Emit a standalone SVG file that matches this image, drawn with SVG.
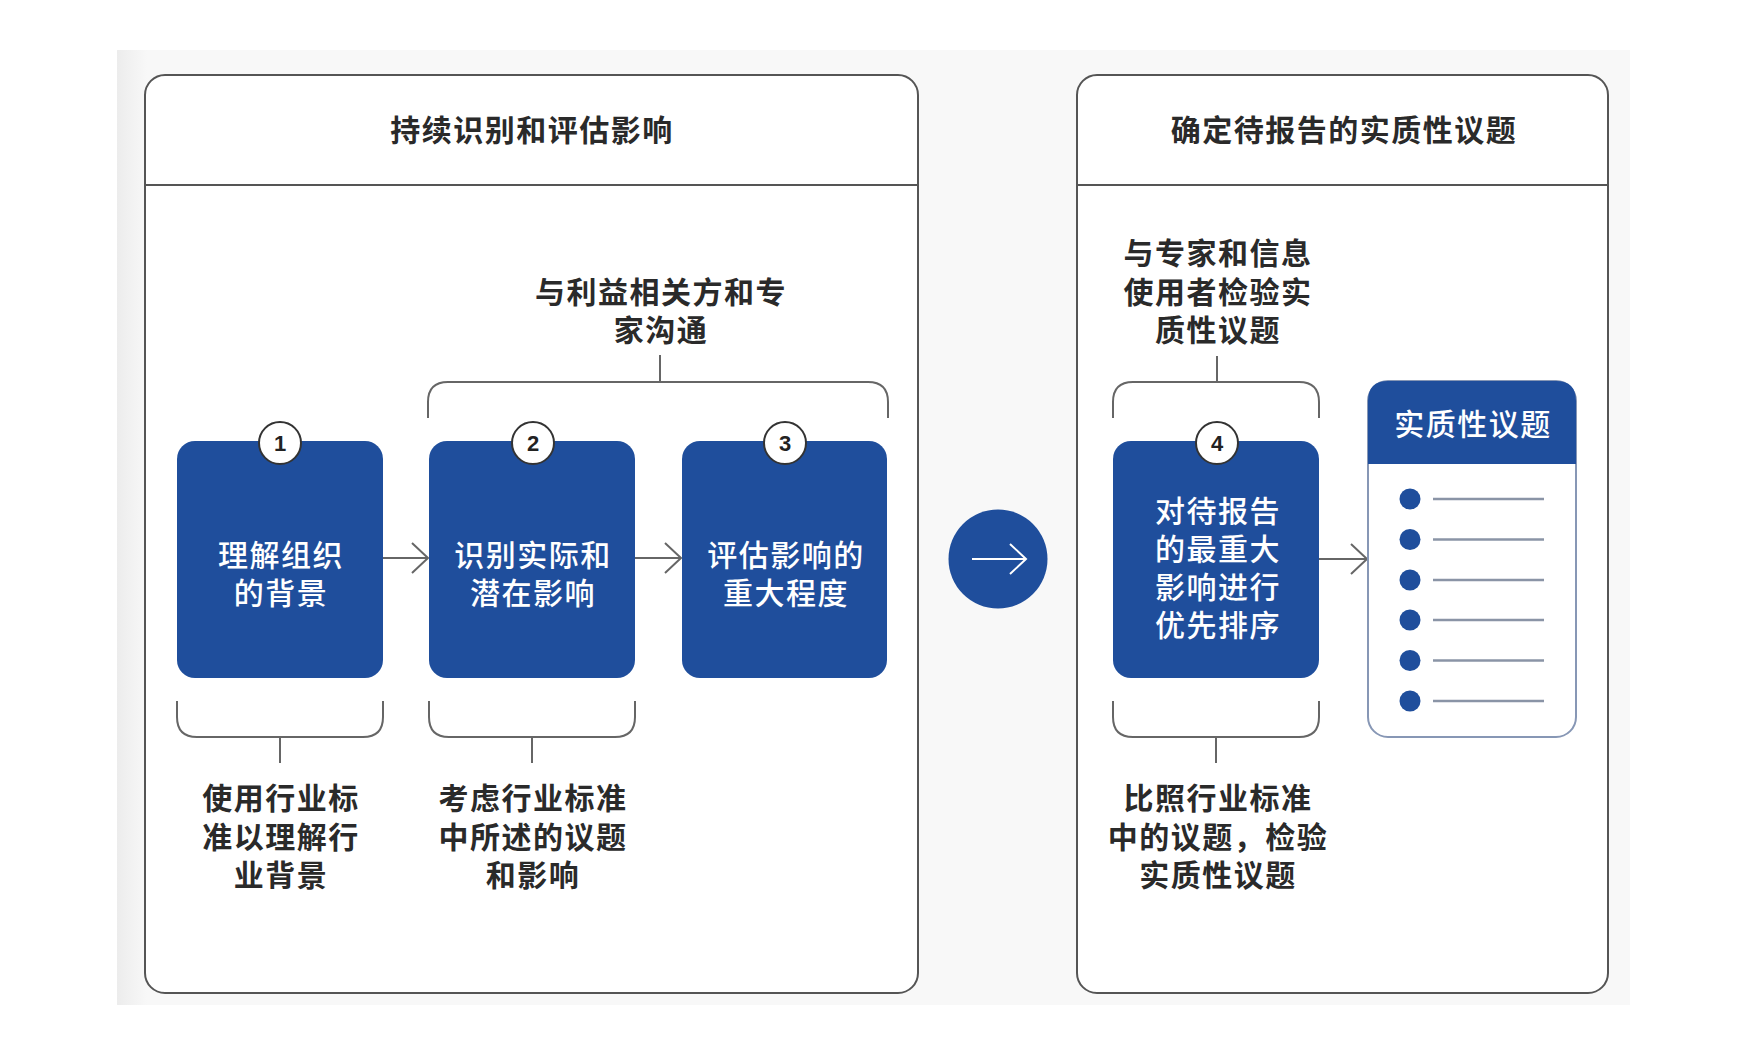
<svg xmlns="http://www.w3.org/2000/svg" width="1746" height="1055" viewBox="0 0 1746 1055">
  <defs>
    <linearGradient id="bgfade" x1="0" y1="0" x2="1" y2="0">
      <stop offset="0" stop-color="#ececec"/>
      <stop offset="1" stop-color="#f8f8f8"/>
    </linearGradient>
    <marker id="chev" viewBox="0 0 20 34" refX="18" refY="17" markerWidth="20" markerHeight="34" markerUnits="userSpaceOnUse" orient="auto">
      <path d="M2,2 L18,17 L2,32" fill="none" stroke="#666" stroke-width="2"/>
    </marker>
    <marker id="chevw" viewBox="0 0 20 34" refX="18" refY="17" markerWidth="20" markerHeight="34" markerUnits="userSpaceOnUse" orient="auto">
      <path d="M2,2 L18,17 L2,32" fill="none" stroke="#ffffff" stroke-width="2"/>
    </marker>
  </defs>
  <style>
    .panel { fill: #ffffff; stroke: #555555; stroke-width: 2; }
    .divider { stroke: #555555; stroke-width: 2; }
    .box { fill: #1f4e9c; }
    .badge { fill: #ffffff; stroke: #333333; stroke-width: 2; }
    .num { font-family: "Liberation Sans", "Noto Sans", sans-serif; font-size: 22px; font-weight: bold; fill: #222222; text-anchor: middle; }
    .title { font-family: "Noto Sans CJK SC", "Noto Sans", sans-serif; font-size: 30px; font-weight: bold; fill: #2a2a2a; text-anchor: middle; letter-spacing: 1.5px; }
    .note { font-family: "Noto Sans CJK SC", "Noto Sans", sans-serif; font-size: 30px; font-weight: bold; fill: #2a2a2a; text-anchor: middle; letter-spacing: 1.5px; }
    .boxtext { font-family: "Noto Sans CJK SC", "Noto Sans", sans-serif; font-size: 30px; font-weight: 500; fill: #ffffff; text-anchor: middle; letter-spacing: 1.5px; }
    .line { fill: none; stroke: #666666; stroke-width: 2; }
    .arrow { fill: none; stroke: #666666; stroke-width: 2; marker-end: url(#chev); }
    .card { fill: #ffffff; stroke: #8797b5; stroke-width: 2; }
    .bullet { fill: #1f4e9c; }
    .rule { stroke: #8a94a6; stroke-width: 2.5; }
  </style>

  <!-- faint page background -->
  <rect x="117" y="50" width="1513" height="955" fill="#f8f8f8"/>
  <rect x="117" y="50" width="30" height="955" fill="url(#bgfade)"/>

  <!-- Left panel -->
  <g id="panel-left">
    <rect class="panel" x="145" y="75" width="773" height="918" rx="20"/>
    <line class="divider" x1="145" y1="185" x2="918" y2="185"/>
    <text class="title" x="532" y="141">持续识别和评估影响</text>
  </g>

  <!-- Right panel -->
  <g id="panel-right">
    <rect class="panel" x="1077" y="75" width="531" height="918" rx="20"/>
    <line class="divider" x1="1077" y1="185" x2="1608" y2="185"/>
    <text class="title" x="1344" y="141">确定待报告的实质性议题</text>
  </g>

  <!-- Annotations -->
  <g id="note-stakeholders">
    <text class="note" x="661" y="303">与利益相关方和专<tspan x="661" dy="38">家沟通</tspan></text>
  </g>
  <g id="note-experts">
    <text class="note" x="1218" y="264">与专家和信息<tspan x="1218" dy="39">使用者检验实</tspan><tspan x="1218" dy="38">质性议题</tspan></text>
  </g>
  <g id="note-industry-1">
    <text class="note" x="281" y="809">使用行业标<tspan x="281" dy="39">准以理解行</tspan><tspan x="281" dy="38">业背景</tspan></text>
  </g>
  <g id="note-industry-2">
    <text class="note" x="533" y="809">考虑行业标准<tspan x="533" dy="39">中所述的议题</tspan><tspan x="533" dy="38">和影响</tspan></text>
  </g>
  <g id="note-industry-4">
    <text class="note" x="1218" y="809">比照行业标准<tspan x="1218" dy="39">中的议题，检验</tspan><tspan x="1218" dy="38">实质性议题</tspan></text>
  </g>

  <!-- Connectors: brackets and arrows -->
  <g id="connectors">
    <path class="line" d="M660,355 V382"/>
    <path class="line" d="M428,418 V402 Q428,382 448,382 H868 Q888,382 888,402 V418"/>
    <path class="line" d="M1217,356 V382"/>
    <path class="line" d="M1113,418 V402 Q1113,382 1133,382 H1299 Q1319,382 1319,402 V418"/>

    <path class="line" d="M177,701 V717 Q177,737 197,737 H363 Q383,737 383,717 V701"/>
    <path class="line" d="M280,737 V763"/>
    <path class="line" d="M429,701 V717 Q429,737 449,737 H615 Q635,737 635,717 V701"/>
    <path class="line" d="M532,737 V763"/>
    <path class="line" d="M1113,701 V717 Q1113,737 1133,737 H1299 Q1319,737 1319,717 V701"/>
    <path class="line" d="M1216,737 V763"/>

    <line class="arrow" x1="383" y1="558" x2="428" y2="558"/>
    <line class="arrow" x1="635" y1="558" x2="681" y2="558"/>
    <line class="arrow" x1="1319" y1="559" x2="1367" y2="559"/>
  </g>

  <!-- Step 1 -->
  <g id="step1">
    <rect class="box" x="177" y="441" width="206" height="237" rx="18"/>
    <circle class="badge" cx="280" cy="443" r="21"/>
    <text class="num" x="280" y="451">1</text>
    <text class="boxtext" x="281" y="566">理解组织<tspan x="281" dy="38">的背景</tspan></text>
  </g>

  <!-- Step 2 -->
  <g id="step2">
    <rect class="box" x="429" y="441" width="206" height="237" rx="18"/>
    <circle class="badge" cx="533" cy="443" r="21"/>
    <text class="num" x="533" y="451">2</text>
    <text class="boxtext" x="533" y="566">识别实际和<tspan x="533" dy="38">潜在影响</tspan></text>
  </g>

  <!-- Step 3 -->
  <g id="step3">
    <rect class="box" x="682" y="441" width="205" height="237" rx="18"/>
    <circle class="badge" cx="785" cy="443" r="21"/>
    <text class="num" x="785" y="451">3</text>
    <text class="boxtext" x="786" y="566">评估影响的<tspan x="786" dy="38">重大程度</tspan></text>
  </g>

  <!-- Transition circle -->
  <g id="transition">
    <circle cx="998" cy="559" r="49.5" fill="#1f4e9c"/>
    <line x1="972" y1="559" x2="1026" y2="559" stroke="#ffffff" stroke-width="2" marker-end="url(#chevw)"/>
  </g>

  <!-- Step 4 -->
  <g id="step4">
    <rect class="box" x="1113" y="441" width="206" height="237" rx="18"/>
    <circle class="badge" cx="1217" cy="443" r="21"/>
    <text class="num" x="1217" y="451">4</text>
    <text class="boxtext" x="1218" y="522">对待报告<tspan x="1218" dy="38">的最重大</tspan><tspan x="1218" dy="38">影响进行</tspan><tspan x="1218" dy="38">优先排序</tspan></text>
  </g>

  <!-- Material topics card -->
  <g id="material-topics">
    <rect class="card" x="1368" y="381" width="208" height="356" rx="20"/>
    <path d="M1368,464 V401 Q1368,381 1388,381 H1556 Q1576,381 1576,401 V464 Z" fill="#1f4e9c"/>
    <text class="boxtext" x="1473" y="435">实质性议题</text>
    <circle class="bullet" cx="1410" cy="499" r="10.5"/>
    <circle class="bullet" cx="1410" cy="539.5" r="10.5"/>
    <circle class="bullet" cx="1410" cy="580" r="10.5"/>
    <circle class="bullet" cx="1410" cy="620" r="10.5"/>
    <circle class="bullet" cx="1410" cy="660.5" r="10.5"/>
    <circle class="bullet" cx="1410" cy="701" r="10.5"/>
    <line class="rule" x1="1433" y1="499" x2="1544" y2="499"/>
    <line class="rule" x1="1433" y1="539.5" x2="1544" y2="539.5"/>
    <line class="rule" x1="1433" y1="580" x2="1544" y2="580"/>
    <line class="rule" x1="1433" y1="620" x2="1544" y2="620"/>
    <line class="rule" x1="1433" y1="660.5" x2="1544" y2="660.5"/>
    <line class="rule" x1="1433" y1="701" x2="1544" y2="701"/>
  </g>
</svg>
